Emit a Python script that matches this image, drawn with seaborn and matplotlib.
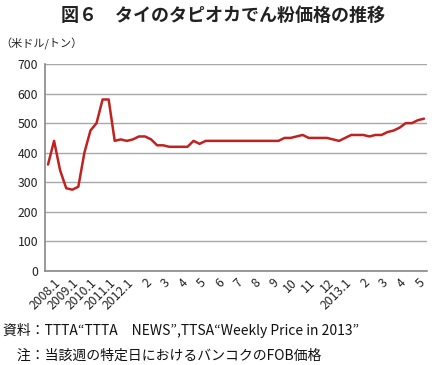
import numpy as np
import pandas as pd
import seaborn as sns
import matplotlib.pyplot as plt

# カテゴリ(目盛ラベル)
categories = ["2008.1", "2009.1", "2010.1", "2011.1", "2012.1", "2", "3", "4", "5", "6",
              "7", "8", "9", "10", "11", "12", "2013.1", "2", "3", "4", "5"]
# 価格 (米ドル/トン) 各カテゴリ3点
price = [360, 440, 340, 280, 275, 285, 400, 475, 500, 580, 580, 440,
         445, 440, 445, 455, 455, 445, 425, 425, 420, 420, 420, 420,
         440, 430, 440, 440, 440, 440, 440, 440, 440, 440, 440, 440,
         440, 440, 440, 450, 450, 455, 460, 450, 450, 450, 450, 445,
         440, 450, 460, 460, 460, 455, 460, 460, 470, 475, 485, 500,
         500, 510, 515]
yticks = [0, 100, 200, 300, 400, 500, 600, 700]

sns.set_style("white")
plt.rcParams['font.family'] = ['Noto Sans CJK JP', 'DejaVu Sans']

df = pd.DataFrame({"pos": np.arange(len(price)), "price": price})

fig = plt.figure(figsize=(4.35, 3.65), dpi=100)
ax = fig.add_axes([0.1034, 0.2575, 0.8782, 0.5672])

sns.lineplot(data=df, x="pos", y="price", ax=ax, color="#c0221f", linewidth=1.8)

n = len(categories)
per = len(price) // n
ax.set_xlim(-0.5, len(price) - 0.5)
ax.set_ylim(0, 700)
ax.set_yticks(yticks)
ax.set_yticklabels([str(v) for v in yticks], fontsize=8.8, color="#222222")
ax.yaxis.grid(True, color="#a8a8a8", linewidth=1.0)
ax.set_axisbelow(True)

# 目盛はカテゴリ境界、ラベルはカテゴリ中央
ax.set_xticks(np.arange(n + 1) * per - 0.5)
ax.set_xticklabels([])
ax.set_xticks(np.arange(n) * per + (per - 1) / 2, minor=True)
ax.set_xticklabels(categories, minor=True, rotation=45, ha="right",
                   rotation_mode="anchor", fontsize=8.8, color="#222222")
ax.tick_params(axis="x", which="major", direction="out", length=3, color="#888888", width=0.8)
ax.tick_params(axis="x", which="minor", length=0, pad=4)
ax.tick_params(axis="y", direction="out", length=3, color="#888888", width=0.8, pad=2)

for s in ["top", "right"]:
    ax.spines[s].set_visible(False)
for s in ["left", "bottom"]:
    ax.spines[s].set_color("#888888")
    ax.spines[s].set_linewidth(1.2)
ax.set_xlabel("")
ax.set_ylabel("")

fig.text(0.513, 0.957, "図６　タイのタピオカでん粉価格の推移", ha="center", va="center",
         fontsize=13, fontweight="bold", color="#222222")
fig.text(0.0, 0.88, "（米ドル/トン）", ha="left", va="center", fontsize=8, color="#222222")
fig.text(0.008, 0.095, "資料：TTTA“TTTA　NEWS”,TTSA“Weekly Price in 2013”",
         ha="left", va="center", fontsize=10, color="#111111")
fig.text(0.008, 0.025, "　注：当該週の特定日におけるバンコクのFOB価格",
         ha="left", va="center", fontsize=10, color="#111111")

fig.savefig("out.png", dpi=100)
